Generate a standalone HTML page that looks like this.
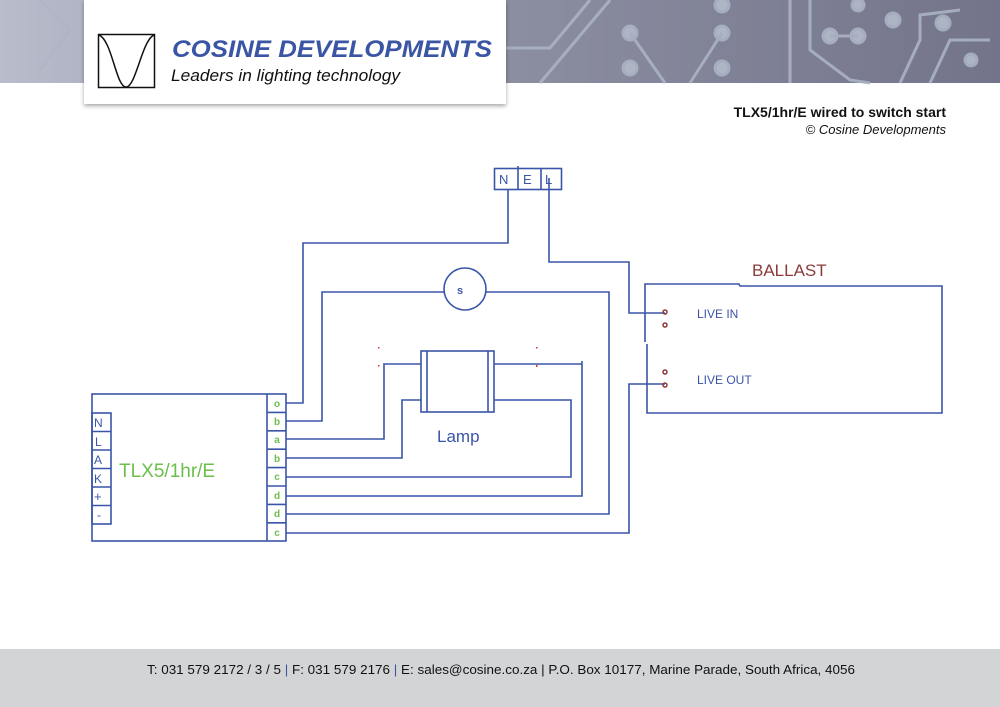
<!DOCTYPE html>
<html><head><meta charset="utf-8"><style>
html,body{margin:0;padding:0;background:#fff;}
body{width:1000px;height:707px;position:relative;overflow:hidden;font-family:"Liberation Sans",sans-serif;}
</style></head><body>
<svg width="1000" height="707" viewBox="0 0 1000 707" xmlns="http://www.w3.org/2000/svg" style="position:absolute;left:0;top:0">
<defs>
<linearGradient id="hg" x1="0" x2="1" y1="0" y2="0">
<stop offset="0" stop-color="#b8bccb"/><stop offset="0.5" stop-color="#8c8ea2"/><stop offset="1" stop-color="#73748a"/>
</linearGradient>
<filter id="sh" x="-5%" y="-5%" width="110%" height="120%"><feDropShadow dx="0" dy="2" stdDeviation="2" flood-color="#000" flood-opacity="0.35"/></filter>
</defs>
<rect x="0" y="0" width="1000" height="83" fill="url(#hg)"/>
<g fill="#b3bccb" stroke="#aab3c4" stroke-width="3" opacity="0.9">
<circle cx="630" cy="33" r="7"/><circle cx="630" cy="68" r="7"/><circle cx="722" cy="5" r="7"/><circle cx="722" cy="33" r="7"/><circle cx="722" cy="68" r="7"/>
<circle cx="830" cy="36" r="7"/><circle cx="858" cy="36" r="7"/><circle cx="858" cy="5" r="6"/><circle cx="893" cy="20" r="7"/><circle cx="943" cy="23" r="7"/><circle cx="971" cy="60" r="6"/>
<line x1="630" y1="33" x2="665" y2="83" fill="none"/><line x1="722" y1="33" x2="690" y2="83" fill="none"/>
<line x1="830" y1="36" x2="858" y2="36"/>
<polyline points="505,48 550,48 590,0" fill="none"/><polyline points="540,83 610,0" fill="none"/>
<polyline points="790,0 790,83" fill="none"/><polyline points="810,0 810,50 850,80 870,83" fill="none"/>
<polyline points="900,83 920,40 920,15 960,10" fill="none"/><polyline points="930,83 950,40 990,40" fill="none"/>
<polyline points="40,0 70,30 40,70" fill="none" opacity="0.5"/>
</g>
<rect x="84" y="0" width="422" height="104" fill="#fff" filter="url(#sh)"/>
<rect x="98.5" y="34.5" width="56" height="53" fill="#fff" stroke="#111" stroke-width="1.5"/>
<path d="M99,35 C112,40 116,87 126,87 C136,87 142,40 154,35" fill="none" stroke="#111" stroke-width="1.5"/>
<text x="172" y="57" font-size="24" font-weight="bold" font-style="italic" fill="#3a55a3" textLength="320" lengthAdjust="spacingAndGlyphs">COSINE DEVELOPMENTS</text>
<text x="171" y="81" font-size="17" font-style="italic" fill="#111" textLength="229" lengthAdjust="spacingAndGlyphs">Leaders in lighting technology</text>
<text x="946" y="117" font-size="14" font-weight="bold" fill="#111" text-anchor="end">TLX5/1hr/E wired to switch start</text>
<text x="946" y="134" font-size="13" font-style="italic" fill="#111" text-anchor="end">© Cosine Developments</text>

<g fill="none" stroke="#3a55a8" stroke-width="1.6">
<rect x="494.5" y="168.5" width="67" height="21"/>
<line x1="518" y1="166" x2="518" y2="190"/><line x1="541" y1="168" x2="541" y2="190"/>
<rect x="92" y="394" width="194" height="147"/>
<line x1="267" y1="394" x2="267" y2="541"/>
<line x1="267" y1="412.4" x2="286" y2="412.4"/><line x1="267" y1="430.8" x2="286" y2="430.8"/><line x1="267" y1="449.2" x2="286" y2="449.2"/><line x1="267" y1="467.6" x2="286" y2="467.6"/><line x1="267" y1="486" x2="286" y2="486"/><line x1="267" y1="504.4" x2="286" y2="504.4"/><line x1="267" y1="522.8" x2="286" y2="522.8"/>
<rect x="92" y="413" width="19" height="111"/>
<line x1="92" y1="431.5" x2="111" y2="431.5"/><line x1="92" y1="450" x2="111" y2="450"/><line x1="92" y1="468.5" x2="111" y2="468.5"/><line x1="92" y1="487" x2="111" y2="487"/><line x1="92" y1="505.5" x2="111" y2="505.5"/>
<polyline points="286,403 303,403 303,243 508,243 508,190"/>
<polyline points="286,421 322,421 322,292 444,292"/>
<circle cx="465" cy="289" r="21"/>
<polyline points="486,292 609,292 609,514 286,514"/>
<polyline points="286,439 384,439 384,364 421,364"/>
<polyline points="286,458 402,458 402,400 421,400"/>
<polyline points="286,477 571,477 571,400 494,400"/>
<polyline points="286,496 582,496 582,361"/>
<line x1="494" y1="364" x2="582" y2="364"/>
<polyline points="286,533 629,533 629,384 665,384"/>
<polyline points="549,178 549,262 629,262 629,313 665,313"/>
<rect x="421" y="351" width="73" height="61"/>
<line x1="427" y1="351" x2="427" y2="412"/><line x1="488" y1="351" x2="488" y2="412"/>
<polyline points="645,342 645,284 739,284 740,286 942,286 942,413 647,413 647,344"/>
</g>
<g fill="none" stroke="#8b3a3a" stroke-width="1.5">
<circle cx="665" cy="312" r="2"/><circle cx="665" cy="325" r="2"/><circle cx="665" cy="372" r="2"/><circle cx="665" cy="385" r="2"/>
</g>
<g fill="#e03030"><rect x="378" y="347" width="1.5" height="1.5"/><rect x="378" y="365" width="1.5" height="1.5"/><rect x="536" y="347" width="1.5" height="1.5"/><rect x="536" y="365" width="1.5" height="2"/></g>

<g font-size="13" fill="#3a55a8">
<text x="499" y="184">N</text><text x="523" y="184">E</text><text x="545" y="184">L</text>
<text x="457" y="294" font-size="11" font-weight="bold">s</text>
<text x="437" y="442" font-size="17">Lamp</text>
<text x="697" y="318" font-size="12">LIVE IN</text>
<text x="697" y="384" font-size="12">LIVE OUT</text>
<text x="94" y="427" font-size="12">N</text><text x="95" y="446" font-size="12">L</text><text x="94" y="464" font-size="12">A</text><text x="94" y="483" font-size="12">K</text><text x="94" y="501" font-size="13">+</text><text x="97" y="519" font-size="12">-</text>
</g>
<text x="752" y="276" font-size="17" fill="#8b3a3a">BALLAST</text>
<text x="119" y="477" font-size="19" fill="#6cbf4a">TLX5/1hr/E</text>
<g font-size="10" font-weight="bold" fill="#6cbf4a" text-anchor="middle">
<text x="277" y="407">o</text><text x="277" y="425">b</text><text x="277" y="443">a</text><text x="277" y="462">b</text><text x="277" y="480">c</text><text x="277" y="499">d</text><text x="277" y="517">d</text><text x="277" y="536">c</text>
</g>

<rect x="0" y="649" width="1000" height="58" fill="#d3d4d6"/>
<text x="147" y="674" font-size="13" fill="#111" textLength="708" lengthAdjust="spacingAndGlyphs">T: 031 579 2172 / 3 / 5 <tspan fill="#3a55a8">|</tspan> F: 031 579 2176 <tspan fill="#3a55a8">|</tspan> E: sales@cosine.co.za | P.O. Box 10177, Marine Parade, South Africa, 4056</text>
</svg>
</body></html>
